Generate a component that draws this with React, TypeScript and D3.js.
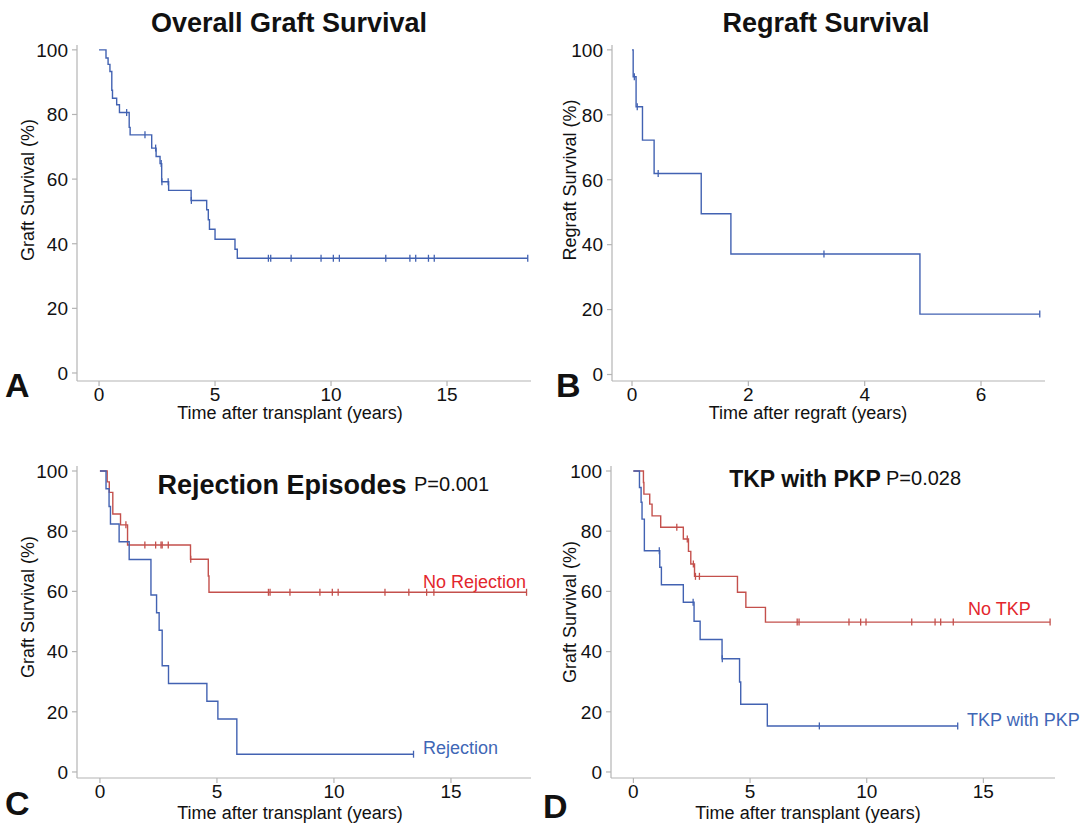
import React from "react";
import * as d3 from "d3";

// ---- data (time in years, survival in %) ----
const overallEvents: [number, number][] = [
  [0.3, 97.5], [0.39, 95.5], [0.47, 93.3], [0.55, 87.5], [0.58, 85.0],
  [0.76, 83.0], [0.88, 80.6], [1.3, 76.0], [1.34, 73.7], [2.27, 69.6],
  [2.46, 67.0], [2.63, 64.8], [2.7, 59.2], [3.0, 56.5], [3.97, 53.4],
  [4.64, 50.5], [4.71, 47.4], [4.76, 44.5], [5.0, 41.4], [5.86, 38.3],
  [5.96, 35.5],
];
const overallCensor = [
  1.19, 1.98, 2.44, 2.68, 2.71, 2.98, 3.98, 7.3, 7.4, 8.28, 9.57, 10.1,
  10.36, 12.36, 13.4, 13.65, 14.2, 14.45, 18.48,
];

const regraftEvents: [number, number][] = [
  [0.02, 91.7], [0.07, 82.5], [0.18, 72.2], [0.38, 61.9], [1.19, 49.5],
  [1.7, 37.1], [4.95, 18.6],
];
const regraftCensor = [0.04, 0.09, 0.45, 3.3, 7.01];

const noRejEvents: [number, number][] = [
  [0.31, 96.4], [0.4, 92.9], [0.55, 85.7], [0.88, 82.1], [1.18, 75.4],
  [3.87, 70.7], [4.63, 65.1], [4.66, 59.7],
];
const noRejCensor = [
  1.11, 1.92, 2.38, 2.61, 2.66, 2.92, 3.88, 7.2, 7.27, 8.12, 9.4, 9.93,
  10.18, 12.18, 13.2, 13.96, 14.27, 18.23,
];
const rejEvents: [number, number][] = [
  [0.26, 94.1], [0.39, 88.2], [0.45, 82.4], [0.82, 76.5], [1.25, 70.6],
  [2.18, 58.8], [2.42, 52.9], [2.53, 47.1], [2.66, 35.3], [2.93, 29.4],
  [4.57, 23.5], [5.04, 17.6], [5.85, 5.9],
];
const rejCensor = [13.4];

const noTkpEvents: [number, number][] = [
  [0.43, 96.2], [0.45, 92.3], [0.7, 89.0], [0.8, 85.1], [1.17, 81.3],
  [2.14, 77.4], [2.36, 73.3], [2.46, 69.1], [2.62, 65.0], [4.46, 59.7],
  [4.82, 54.7], [5.66, 49.8],
];
const noTkpCensor = [
  1.86, 2.31, 2.57, 2.66, 2.83, 7.02, 7.1, 9.24, 9.74, 9.97, 11.93, 12.93,
  13.17, 13.71, 17.86,
];
const tkpEvents: [number, number][] = [
  [0.26, 94.5], [0.33, 89.6], [0.37, 84.0], [0.47, 73.5], [1.13, 68.0],
  [1.2, 62.2], [2.14, 56.4], [2.6, 50.1], [2.86, 44.0], [3.8, 37.6],
  [4.55, 29.9], [4.6, 22.5], [5.74, 15.3],
];
const tkpCensor = [1.11, 2.56, 3.81, 7.97, 13.9];

const yTicks = [0, 20, 40, 60, 80, 100];
const transplantTicks = [0, 5, 10, 15];
const regraftTicks = [0, 2, 4, 6];

const BLUE = "#4262b2";
const RED = "#c4504c";
const FONT = "'Liberation Sans', Arial, Helvetica, sans-serif";

type Series = { events: [number, number][]; censor: number[]; color: string };
type CurveLabel = { text: string; x: number; y: number; color: string };

type PanelProps = {
  xRange: [number, number];
  xDomain: [number, number];
  yRange: [number, number];
  yDomain: [number, number];
  xTicks: number[];
  series: Series[];
  title: string;
  titleX: number;
  titleY: number;
  titleSize?: number;
  letter: string;
  letterX: number;
  letterY: number;
  xTitle: string;
  xTitleX: number;
  xTitleY: number;
  yTitle: string;
  yTitleX: number;
  yTitleY: number;
  pval?: { text: string; x: number; y: number };
  labels?: CurveLabel[];
};

function survAt(events: [number, number][], t: number) {
  let s = 100;
  for (const [et, es] of events) if (et <= t) s = es;
  return s;
}

function Panel(p: PanelProps) {
  const x = d3.scaleLinear().domain(p.xDomain).range(p.xRange);
  const y = d3.scaleLinear().domain(p.yDomain).range(p.yRange);
  const axisY = p.yRange[0];
  const axisX = p.xRange[0];
  const line = d3
    .line<[number, number]>()
    .x((d) => x(d[0]))
    .y((d) => y(d[1]))
    .curve(d3.curveStepAfter);

  return (
    <g fontFamily={FONT}>
      {/* axes */}
      <line x1={axisX} x2={axisX} y1={p.yRange[1]} y2={axisY} stroke="#b4b4b4" strokeWidth={1.2} />
      <line x1={axisX} x2={p.xRange[1]} y1={axisY} y2={axisY} stroke="#b4b4b4" strokeWidth={1.2} />
      {yTicks.map((v) => (
        <g key={"y" + v}>
          <line x1={axisX - 5} x2={axisX} y1={y(v)} y2={y(v)} stroke="#b4b4b4" strokeWidth={1.2} />
          <text x={axisX - 9} y={y(v)} dy="0.36em" textAnchor="end" fontSize={19} fill="#111">
            {v}
          </text>
        </g>
      ))}
      {p.xTicks.map((v) => (
        <g key={"x" + v}>
          <line x1={x(v)} x2={x(v)} y1={axisY} y2={axisY + 5} stroke="#b4b4b4" strokeWidth={1.2} />
          <text x={x(v)} y={axisY + 20} textAnchor="middle" fontSize={19} fill="#111">
            {v}
          </text>
        </g>
      ))}

      {/* curves */}
      {p.series.map((s, i) => {
        const lastT = Math.max(d3.max(s.censor) ?? 0, s.events[s.events.length - 1][0]);
        const pts: [number, number][] = [[0, 100], ...s.events, [lastT, survAt(s.events, lastT)]];
        return (
          <g key={i}>
            <path d={line(pts) ?? ""} fill="none" stroke={s.color} strokeWidth={1.4} />
            {s.censor.map((t, j) => (
              <line
                key={j}
                x1={x(t)}
                x2={x(t)}
                y1={y(survAt(s.events, t)) - 3.5}
                y2={y(survAt(s.events, t)) + 3.5}
                stroke={s.color}
                strokeWidth={1.3}
              />
            ))}
          </g>
        );
      })}

      {(p.labels ?? []).map((l) => (
        <text key={l.text} x={l.x} y={l.y} fontSize={18} fill={l.color}>
          {l.text}
        </text>
      ))}

      <text
        x={p.titleX}
        y={p.titleY}
        textAnchor="middle"
        fontSize={p.titleSize ?? 27}
        fontWeight="bold"
        fill="#111"
      >
        {p.title}
      </text>
      {p.pval && (
        <text x={p.pval.x} y={p.pval.y} fontSize={20} fill="#111">
          {p.pval.text}
        </text>
      )}
      <text x={p.letterX} y={p.letterY} fontSize={34} fontWeight="bold" fill="#111">
        {p.letter}
      </text>
      <text x={p.xTitleX} y={p.xTitleY} textAnchor="middle" fontSize={18} fill="#111">
        {p.xTitle}
      </text>
      <text
        transform={`translate(${p.yTitleX},${p.yTitleY}) rotate(-90)`}
        textAnchor="middle"
        dy="0.35em"
        fontSize={18}
        fill="#111"
      >
        {p.yTitle}
      </text>
    </g>
  );
}

export default function App() {
  return (
    <svg
      width={1084}
      height={825}
      style={{ position: "absolute", left: 0, top: 0, background: "#fff" }}
    >
      <rect width={1084} height={825} fill="#fff" />
      <Panel
        xRange={[77, 531]}
        xDomain={[-0.95, 18.62]}
        yRange={[381, 45]}
        yDomain={[-2.48, 101.5]}
        xTicks={transplantTicks}
        series={[{ events: overallEvents, censor: overallCensor, color: BLUE }]}
        title="Overall Graft Survival"
        titleX={289}
        titleY={32}
        letter="A"
        letterX={5}
        letterY={397}
        xTitle="Time after transplant (years)"
        xTitleX={290}
        xTitleY={419}
        yTitle="Graft Survival (%)"
        yTitleX={28}
        yTitleY={190}
      />
      <Panel
        xRange={[612, 1045]}
        xDomain={[-0.344, 7.1]}
        yRange={[381, 45]}
        yDomain={[-2.0, 101.5]}
        xTicks={regraftTicks}
        series={[{ events: regraftEvents, censor: regraftCensor, color: BLUE }]}
        title="Regraft Survival"
        titleX={826}
        titleY={32}
        letter="B"
        letterX={556}
        letterY={397}
        xTitle="Time after regraft (years)"
        xTitleX={808}
        xTitleY={419}
        yTitle="Regraft Survival (%)"
        yTitleX={570}
        yTitleY={180}
      />
      <Panel
        xRange={[77, 531]}
        xDomain={[-0.98, 18.42]}
        yRange={[778, 466]}
        yDomain={[-2.0, 101.66]}
        xTicks={transplantTicks}
        series={[
          { events: noRejEvents, censor: noRejCensor, color: RED },
          { events: rejEvents, censor: rejCensor, color: BLUE },
        ]}
        title="Rejection Episodes"
        titleX={282}
        titleY={494}
        letter="C"
        letterX={5}
        letterY={815}
        xTitle="Time after transplant (years)"
        xTitleX={290}
        xTitleY={819}
        yTitle="Graft Survival (%)"
        yTitleX={28}
        yTitleY={607}
        pval={{ text: "P=0.001", x: 414, y: 491 }}
        labels={[
          { text: "No Rejection", x: 423, y: 588, color: "#e3262d" },
          { text: "Rejection", x: 423, y: 754, color: "#3f67b6" },
        ]}
      />
      <Panel
        xRange={[611, 1055]}
        xDomain={[-0.96, 18.07]}
        yRange={[778, 466]}
        yDomain={[-2.0, 101.66]}
        xTicks={transplantTicks}
        series={[
          { events: noTkpEvents, censor: noTkpCensor, color: RED },
          { events: tkpEvents, censor: tkpCensor, color: BLUE },
        ]}
        title="TKP with PKP"
        titleX={805}
        titleY={487}
        titleSize={23}
        letter="D"
        letterX={543}
        letterY={818}
        xTitle="Time after transplant (years)"
        xTitleX={808}
        xTitleY={819}
        yTitle="Graft Survival (%)"
        yTitleX={570}
        yTitleY={612}
        pval={{ text: "P=0.028", x: 886, y: 485 }}
        labels={[
          { text: "No TKP", x: 968, y: 615, color: "#e3262d" },
          { text: "TKP with PKP", x: 967, y: 726, color: "#3f67b6" },
        ]}
      />
    </svg>
  );
}
